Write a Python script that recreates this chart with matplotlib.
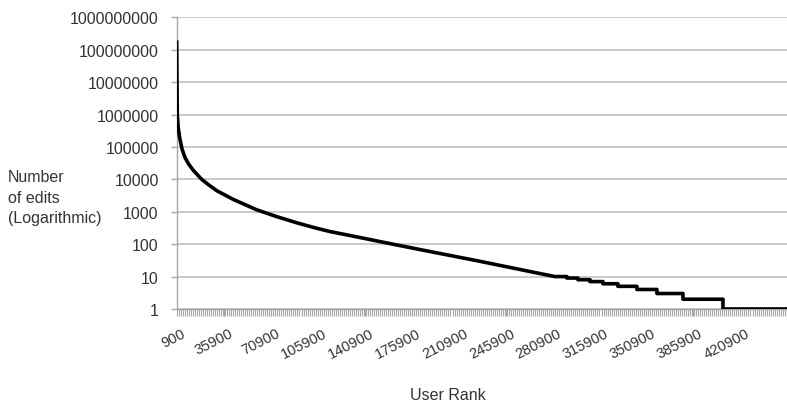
import matplotlib
matplotlib.use('Agg')
import matplotlib.pyplot as plt
import matplotlib.transforms as mtransforms
from matplotlib.ticker import FixedLocator, NullFormatter
import numpy as np

# parte suave de la curva (rango de usuario, número de ediciones)
head_rank = [900, 1124, 1347, 2018, 3359, 5000, 7084, 9840, 13267, 19525,
             24740, 30700, 43067, 60500, 75400, 90300, 105200, 115100,
             135000, 158300, 187150, 224400, 261650, 282700]
head_edits = [1.7e8, 1e7, 1e6, 4.0e5, 1.7e5, 8.3e4, 4.7e4, 2.95e4, 1.9e4, 1e4,
              6760, 4470, 2400, 1148, 708, 457, 309, 245,
              168, 107, 62, 31, 15, 10.5]

# cola escalonada: valor entero desde cada rango inicial
tail_start = [282700, 291600, 299800, 308800, 318500, 329600, 343800,
              358700, 378100, 407900]
tail_edits = [10, 9, 8, 7, 6, 5, 4, 3, 2, 1]
last_rank = 455600

x_labels = list(range(900, 420901, 35000))
y_ticks = [10 ** k for k in range(10)]

plt.rcParams['font.family'] = ['Liberation Sans', 'DejaVu Sans']
text_color = '#333333'
grid_color = '#c6c6c6'

fig = plt.figure(figsize=(7.87, 4.06), dpi=100)
ax = fig.add_axes([0.2245, 0.2365, 0.7755, 0.7185])

# construir la escalera a partir de los inicios
step_x = []
step_y = []
ends = tail_start[1:] + [last_rank]
for s, e, v in zip(tail_start, ends, tail_edits):
    step_x += [s, e]
    step_y += [v, v]

xs = head_rank[:-1] + step_x
ys = head_edits[:-1] + step_y
ax.plot(xs, ys, color='black', linewidth=2.6, solid_joinstyle='round', zorder=3)

ax.set_yscale('log')
ax.set_ylim(1, 1e9)
ax.set_xlim(900, last_rank)

ax.yaxis.set_major_locator(FixedLocator(y_ticks))
ax.yaxis.set_minor_locator(FixedLocator([]))
ax.set_yticklabels([str(t) for t in y_ticks])
ax.grid(axis='y', color=grid_color, linewidth=1.3, zorder=1)

ax.set_xticks(x_labels)
ax.set_xticklabels([str(v) for v in x_labels], rotation=27, ha='right',
                   va='top', rotation_mode='anchor')
ax.set_xticks(np.arange(900, last_rank, 1500), minor=True)
ax.xaxis.set_minor_formatter(NullFormatter())

for side in ['top', 'right']:
    ax.spines[side].set_visible(False)
for side in ['left', 'bottom']:
    ax.spines[side].set_color('#a6a6a6')
    ax.spines[side].set_linewidth(1.0)

ax.tick_params(axis='y', which='major', length=4, width=1, color='#a6a6a6',
               labelsize=11.5, labelcolor=text_color, pad=9)
ax.tick_params(axis='x', which='both', length=5, width=0.8, color='#a6a6a6',
               labelsize=10.5, labelcolor=text_color, pad=7)

# desplazar un poco las etiquetas del eje x, como en el original
offset = mtransforms.ScaledTranslation(5 / 100, 0, fig.dpi_scale_trans)
for lab in ax.get_xticklabels():
    lab.set_transform(lab.get_transform() + offset)

fig.text(0.01, 0.512, 'Number\nof edits\n(Logarithmic)', ha='left', va='center',
         fontsize=11.5, color=text_color, linespacing=1.45)
fig.text(0.569, 0.027, 'User Rank', ha='center', va='center',
         fontsize=11.5, color=text_color)

fig.savefig('out.png', dpi=100)
plt.close(fig)
